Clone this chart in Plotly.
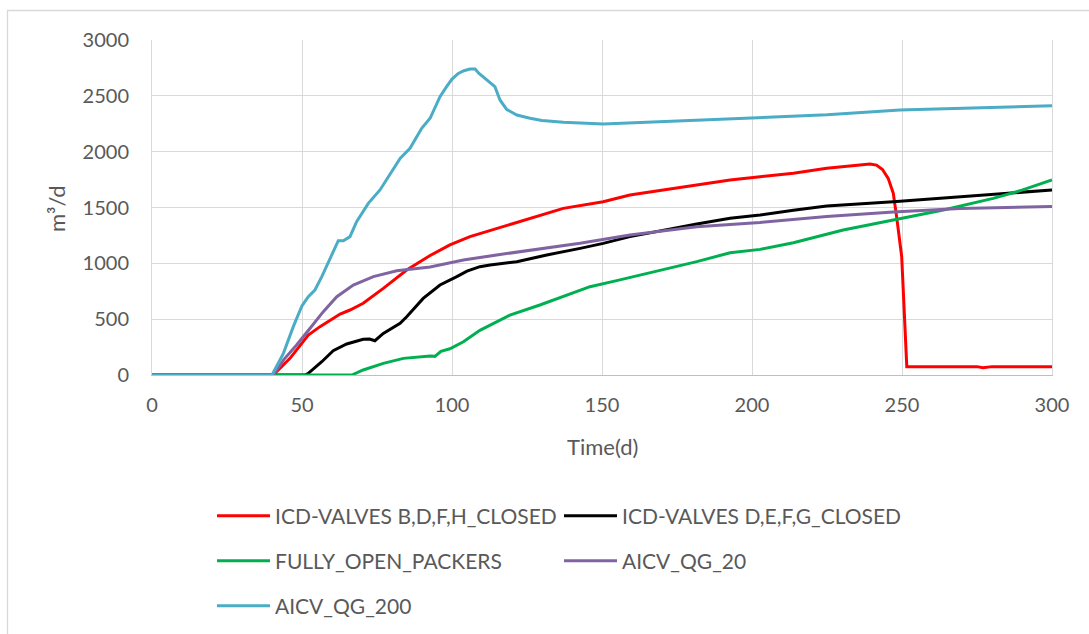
import plotly.graph_objects as go

# Daily gas rate (m3/d) for each completion case
days_icd_bdfh = [0, 40.4, 46, 50, 52.1, 56, 59.3, 62.7, 66, 70.4, 77.1, 84.9, 92.7, 99.3, 106,
                 114.9, 126, 137.1, 150.4, 159.3, 170.4, 181.6, 192.7, 202.7, 213.8, 224.9,
                 235, 239.3, 241.5, 243.5, 245.4, 247.1, 248.2, 249.9, 251.6, 260, 275, 277,
                 280, 300]
rate_icd_bdfh = [0, 0, 149, 290, 358, 433, 492, 546, 582, 642, 776, 940, 1070, 1165, 1239,
                 1313, 1403, 1492, 1552, 1612, 1657, 1701, 1746, 1776, 1806, 1851,
                 1875, 1889, 1880, 1840, 1761, 1627, 1418, 1060, 75, 75, 75, 65,
                 75, 75]

days_icd_defg = [0, 51, 52.1, 56.6, 60.4, 64.9, 70.4, 72.5, 74.3, 77.1, 82.7, 84.9, 90.4, 96,
                 101.6, 105, 109.3, 112.7, 121.6, 131.6, 142.7, 150.4, 159.3, 170.4, 181.6,
                 192.7, 202.7, 213.8, 224.9, 247.1, 269.3, 285, 300]
rate_icd_defg = [0, 0, 15, 119, 218, 278, 320, 322, 307, 373, 463, 522, 686, 806,
                 881, 930, 970, 985, 1015, 1075, 1134, 1179, 1239, 1298, 1352,
                 1403, 1433, 1475, 1513, 1552, 1597, 1625, 1657]

days_open = [0, 66.6, 70.4, 77.1, 83.8, 88, 92.7, 94.3, 96.3, 99.3, 103.8, 109.3, 112.7,
             119.3, 129.3, 137.1, 146, 154.9, 166, 181.6, 192.7, 202.7, 213.8, 230.4,
             247.1, 263.8, 280.4, 290, 300]
rate_open = [0, 0, 45, 104, 149, 162, 170, 167, 212, 235, 298, 400, 448,
             537, 627, 701, 791, 845, 916, 1015, 1095, 1125, 1185, 1298,
             1388, 1478, 1582, 1655, 1746]

days_aicv20 = [0, 40.4, 44, 48.2, 52.7, 57.1, 61.6, 67.1, 73.8, 81.6, 92.7, 103.8, 114.9,
               126, 142.7, 159.3, 181.6, 202.7, 224.9, 247.1, 269.3, 300]
rate_aicv20 = [0, 0, 140, 269, 418, 567, 701, 806, 881, 934, 967, 1030, 1075,
               1119, 1179, 1254, 1328, 1366, 1420, 1460, 1492, 1508]

days_aicv200 = [0, 40, 43.8, 47.1, 50, 52.1, 54.3, 56.6, 60, 62.1, 63.8, 66, 68.2, 72.1, 76,
                78.2, 80, 82.7, 86, 88, 89.9, 92.7, 94, 96, 98.2, 100, 102.1, 104, 106,
                107.7, 109, 112.1, 114.3, 116, 118.2, 121.6, 126, 130, 137.1, 150.4,
                163.8, 181.6, 202.7, 225, 249.3, 275, 300]
rate_aicv200 = [0, 0, 194, 433, 620, 701, 761, 881, 1080, 1203, 1203, 1239, 1373, 1537, 1657,
                1746, 1830, 1940, 2030, 2120, 2209, 2299, 2380, 2493, 2582, 2650, 2701, 2725, 2740,
                2740, 2700, 2627, 2582, 2463, 2379, 2328, 2299, 2280, 2263, 2248,
                2263, 2284, 2305, 2330, 2373, 2390, 2412]

series = [
    ("ICD-VALVES B,D,F,H_CLOSED", days_icd_bdfh, rate_icd_bdfh, "#FF0000", "legend"),
    ("ICD-VALVES D,E,F,G_CLOSED", days_icd_defg, rate_icd_defg, "#000000", "legend2"),
    ("FULLY_OPEN_PACKERS", days_open, rate_open, "#00B050", "legend3"),
    ("AICV_QG_20", days_aicv20, rate_aicv20, "#8064A2", "legend4"),
    ("AICV_QG_200", days_aicv200, rate_aicv200, "#4BACC6", "legend5"),
]

FONT = "Lato, 'Liberation Sans', sans-serif"
TXT = "#595959"

fig = go.Figure()
for name, x, y, color, leg in series:
    fig.add_trace(go.Scatter(x=x, y=y, mode="lines", name=name, legend=leg,
                             line=dict(color=color, width=3)))

W, H = 1089, 634
L, R, T, B = 152, 37, 40, 259
pw, ph = W - L - R, H - T - B


def px_x(p):
    return (p - L) / pw


def px_y(p):
    return (H - B - p) / ph


leg_common = dict(orientation="h", xanchor="left", yanchor="middle",
                  bgcolor="rgba(0,0,0,0)", itemwidth=53,
                  font=dict(family=FONT, size=21, color=TXT))
col1, col2 = 212, 559
rows = [516, 561, 606]

fig.update_layout(
    width=W, height=H,
    margin=dict(l=L, r=R, t=T, b=B, autoexpand=False),
    paper_bgcolor="white", plot_bgcolor="white",
    font=dict(family=FONT, size=20, color=TXT),
    showlegend=True,
    legend=dict(x=px_x(col1), y=px_y(rows[0]), **leg_common),
    legend2=dict(x=px_x(col2), y=px_y(rows[0]), **leg_common),
    legend3=dict(x=px_x(col1), y=px_y(rows[1]), **leg_common),
    legend4=dict(x=px_x(col2), y=px_y(rows[1]), **leg_common),
    legend5=dict(x=px_x(col1), y=px_y(rows[2]), **leg_common),
    xaxis=dict(range=[0, 300], tick0=0, dtick=50, showgrid=True, gridcolor="#D9D9D9",
               gridwidth=1, zeroline=False, showline=True, linecolor="#BFBFBF",
               linewidth=1, ticks="", ticklabelstandoff=12,
               tickfont=dict(family=FONT, size=20, color=TXT)),
    yaxis=dict(range=[0, 3000], tick0=0, dtick=500, showgrid=True, gridcolor="#D9D9D9",
               gridwidth=1, zeroline=False, showline=True, linecolor="#D9D9D9",
               mirror=True, linewidth=1, ticks="", ticklabelstandoff=18,
               tickfont=dict(family=FONT, size=20, color=TXT)),
    annotations=[
        dict(text="Time(d)", xref="paper", yref="paper", x=0.5, y=px_y(446),
             xanchor="center", yanchor="middle", showarrow=False,
             font=dict(family=FONT, size=22, color=TXT)),
        dict(text="m³/d", xref="paper", yref="paper", x=px_x(56), y=px_y(209),
             xanchor="center", yanchor="middle", textangle=-90, showarrow=False,
             font=dict(family=FONT, size=22, color=TXT)),
    ],
    shapes=[
        dict(type="rect", xref="paper", yref="paper", layer="below",
             x0=px_x(7.5), x1=px_x(1100), y0=px_y(660), y1=px_y(10.5),
             line=dict(color="#D9D9D9", width=1.3), fillcolor="rgba(0,0,0,0)"),
    ],
)

fig.write_html("out.html")
